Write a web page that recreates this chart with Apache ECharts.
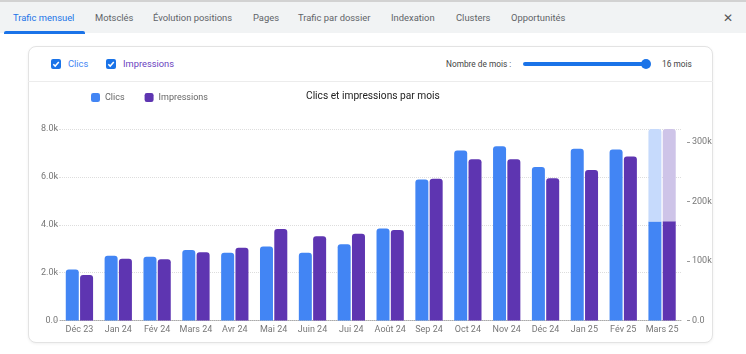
<!DOCTYPE html>
<html><head><meta charset="utf-8">
<script src="https://cdn.jsdelivr.net/npm/echarts@6/dist/echarts.min.js"></script>
<style>
html,body{margin:0;padding:0;width:746px;height:354px;overflow:hidden;background:#fff;font-family:Roboto,"Noto Sans",Arial,sans-serif;}
#tabs{position:absolute;left:0;top:0;width:746px;height:33px;background:#f1f3f4;border-top:2px solid #d2d2d2;box-sizing:border-box;}
.tab{position:absolute;top:10px;font-size:9.4px;line-height:12px;color:#5f6368;white-space:nowrap;}
.tab.active{color:#1a73e8;}
#uline{position:absolute;left:4px;top:29px;width:81px;height:3px;background:#1a73e8;border-radius:2px 2px 0 0;}
#close{position:absolute;left:723px;top:10px;font-size:12px;line-height:13px;color:#555;}
#card{position:absolute;left:28px;top:46px;width:685px;height:297px;border:1px solid #e3e3e3;border-radius:8px;box-sizing:border-box;box-shadow:0 1px 3px rgba(0,0,0,0.06);background:#fff;}
#sep{position:absolute;left:28px;top:81px;width:685px;height:1px;background:#ececec;}
.cb{position:absolute;top:59px;width:10px;height:10px;background:#1a73e8;border-radius:2px;}
.cb svg{position:absolute;left:0;top:0;}
.lbl{position:absolute;top:58px;font-size:9.3px;line-height:12px;white-space:nowrap;}
#nm{position:absolute;left:446px;top:59px;font-size:8.3px;line-height:11px;color:#444;white-space:nowrap;}
#track{position:absolute;left:523px;top:62px;width:123px;height:4px;background:#1a73e8;border-radius:2px;}
#thumb{position:absolute;left:641px;top:59px;width:10px;height:10px;background:#1a73e8;border-radius:50%;}
#mois{position:absolute;left:662px;top:59px;font-size:8.3px;line-height:11px;color:#444;white-space:nowrap;}
#chart{position:absolute;left:0;top:0;width:746px;height:354px;z-index:2;}
</style></head>
<body>
<div id="tabs">
  <div class="tab active" style="left:13px">Trafic mensuel</div>
  <div class="tab" style="left:95px">Motsclés</div>
  <div class="tab" style="left:153px">Évolution positions</div>
  <div class="tab" style="left:253px">Pages</div>
  <div class="tab" style="left:298px">Trafic par dossier</div>
  <div class="tab" style="left:391px">Indexation</div>
  <div class="tab" style="left:456px">Clusters</div>
  <div class="tab" style="left:511px">Opportunités</div>
  <div id="uline"></div>
  <div id="close">✕</div>
</div>
<div id="card"></div>
<div id="sep"></div>
<div class="cb" style="left:51px"><svg width="10" height="10"><path d="M2.3 5.2 L4.2 7.1 L7.8 3" stroke="#fff" stroke-width="1.5" fill="none"/></svg></div>
<div class="lbl" style="left:68px;color:#4285f4">Clics</div>
<div class="cb" style="left:106px"><svg width="10" height="10"><path d="M2.3 5.2 L4.2 7.1 L7.8 3" stroke="#fff" stroke-width="1.5" fill="none"/></svg></div>
<div class="lbl" style="left:123px;color:#6a3fc0">Impressions</div>
<div id="nm">Nombre de mois :</div>
<div id="track"></div>
<div id="thumb"></div>
<div id="mois">16 mois</div>
<div id="chart"></div>
<script>
const categories = ['Déc 23','Jan 24','Fév 24','Mars 24','Avr 24','Mai 24','Juin 24','Jui 24','Août 24','Sep 24','Oct 24','Nov 24','Déc 24','Jan 25','Fév 25','Mars 25'];
const clics = [2130, 2710, 2660, 2940, 2830, 3090, 2830, 3190, 3840, 5890, 7100, 7280, 6410, 7170, 7140, 4140];
const impressions = [76500, 104000, 103000, 114800, 122500, 154000, 141800, 146000, 152000, 238500, 271000, 271000, 239000, 253000, 275600, 167000];
// projected totals for the current (incomplete) month
const projClics = [null, null, null, null, null, null, null, null, null, null, null, null, null, null, null, 8000];
const projImpressions = [null, null, null, null, null, null, null, null, null, null, null, null, null, null, null, 322000];
const rightTicks = [0, 100000, 200000, 300000];

const C_BLUE = '#4285f4', C_PURPLE = '#5e35b1';
const C_BLUE_L = '#c6dafc', C_PURPLE_L = '#cec4e8';

function actualData(vals, proj) {
  return vals.map((v, i) => proj[i] != null ? {value: v, itemStyle: {borderRadius: 0}} : v);
}
function remainder(vals, proj) {
  return proj.map((p, i) => p != null ? p - vals[i] : null);
}

const chart = echarts.init(document.getElementById('chart'), null, {renderer: 'canvas'});
chart.setOption({
  backgroundColor: 'transparent',
  animation: false,
  textStyle: {fontFamily: 'Roboto, Arial, sans-serif'},
  title: {
    text: 'Clics et impressions par mois', left: 301, top: 86,
    textStyle: {fontSize: 10.2, fontWeight: 'normal', color: '#222'}
  },
  legend: {
    data: ['Clics', 'Impressions'], left: 86, top: 88,
    itemWidth: 9, itemHeight: 9, itemGap: 20, icon: 'roundRect',
    textStyle: {fontSize: 9, color: '#666'}
  },
  grid: {left: 60, right: 64.5, top: 129, bottom: 33.5},
  xAxis: {
    type: 'category', data: categories,
    axisLine: {lineStyle: {color: '#aaa', type: 'dotted'}},
    axisTick: {show: false},
    axisLabel: {fontSize: 9, color: '#777', margin: 5, interval: 0}
  },
  yAxis: [
    {
      type: 'value', min: 0, max: 8000, interval: 2000,
      axisLine: {show: false},
      axisTick: {show: true, length: 6, lineStyle: {color: '#ddd', type: 'dotted'}},
      axisLabel: {fontSize: 9, color: '#777', margin: 2,
        formatter: v => v === 0 ? '0.0' : (v / 1000).toFixed(1) + 'k'},
      splitLine: {lineStyle: {color: '#ddd', type: 'dotted'}}
    },
    {
      type: 'value', min: 0, max: 322000, position: 'right', offset: 5.5,
      axisLine: {show: false},
      axisTick: {show: true, length: 3, customValues: rightTicks, lineStyle: {color: '#999'}},
      axisLabel: {fontSize: 9, color: '#777', margin: 5, customValues: rightTicks,
        formatter: v => v === 0 ? '0.0' : (v / 1000) + 'k'},
      splitLine: {show: false}
    }
  ],
  series: [
    {name: 'Clics', type: 'bar', stack: 'c', yAxisIndex: 0, barWidth: 13, barGap: '10%',
     itemStyle: {color: C_BLUE, borderRadius: [3, 3, 0, 0]}, data: actualData(clics, projClics)},
    {name: 'Impressions', type: 'bar', stack: 'i', yAxisIndex: 1, barWidth: 13,
     itemStyle: {color: C_PURPLE, borderRadius: [3, 3, 0, 0]}, data: actualData(impressions, projImpressions)},
    {name: 'Clics projetés', type: 'bar', stack: 'c', yAxisIndex: 0, barWidth: 13,
     itemStyle: {color: C_BLUE_L, borderRadius: [3, 3, 0, 0]}, data: remainder(clics, projClics)},
    {name: 'Impressions projetées', type: 'bar', stack: 'i', yAxisIndex: 1, barWidth: 13,
     itemStyle: {color: C_PURPLE_L, borderRadius: [3, 3, 0, 0]}, data: remainder(impressions, projImpressions)}
  ]
});
</script>
</body></html>
